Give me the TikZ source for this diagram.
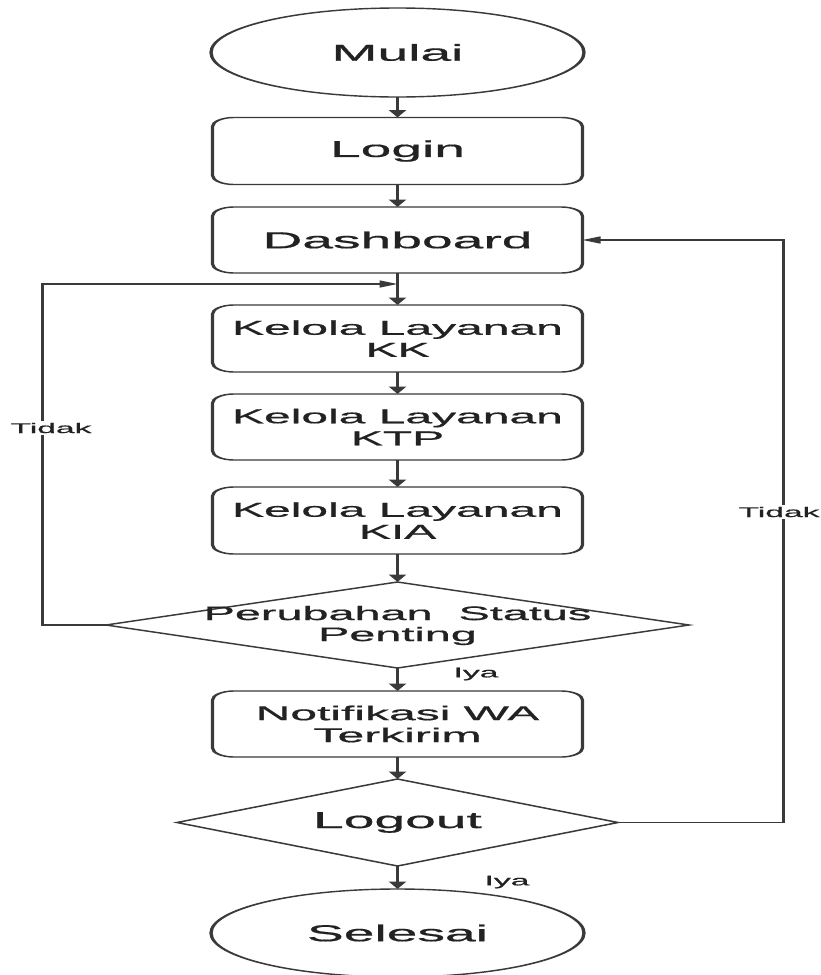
\documentclass[tikz,border=0pt]{standalone}
\usepackage{fontspec}
\setmainfont{Liberation Sans}[FakeBold=0.6]
\usetikzlibrary{shapes.geometric,arrows.meta}
\definecolor{ln}{HTML}{3A3A3A}
\definecolor{tx}{HTML}{222222}
\begin{document}
\begin{tikzpicture}[x=1pt,y=-1pt]
\useasboundingbox[fill=white] (0,0) rectangle (821,975);
\begin{scope}[transform canvas={xscale=2.4}, x=0.416667pt, y=-1pt,
  every node/.style={text=tx, inner sep=0pt, outer sep=0pt},
  procbox/.style={draw=ln, line width=1.4pt, rounded corners=9pt, rectangle,
    minimum width=154.17pt, minimum height=67pt, align=center,
    font=\fontsize{20}{22}\selectfont},
  onebox/.style={procbox, font=\fontsize{23}{26}\selectfont},
  term/.style={draw=ln, line width=1.4pt, ellipse, minimum width=155.42pt,
    minimum height=89pt, font=\fontsize{23}{26}\selectfont},
  dec/.style={draw=ln, line width=1.4pt, diamond},
  arr/.style={draw=ln, line width=1.4pt, -{Triangle[length=7.5pt,width=7pt]}},
  lbl/.style={font=\fontsize{14}{16}\selectfont, fill=white, inner sep=1.5pt},
  lblb/.style={font=\fontsize{14}{16}\selectfont}]

\node[term] (mulai) at (397.5,52.5) {Mulai};
\node[onebox] (login) at (397.5,151) {Login};
\node[onebox, minimum height=66pt] (dash) at (397.5,240) {Dashboard};
\node[procbox] (kk) at (397.5,338.5) {Kelola Layanan\\KK};
\node[procbox, minimum height=66pt] (ktp) at (397.5,427) {Kelola Layanan\\KTP};
\node[procbox] (kia) at (397.5,520.5) {Kelola Layanan\\KIA};
\node[dec, minimum width=242.92pt, minimum height=86pt] (ubah) at (397.5,625) {};
\node[align=center, font=\fontsize{19.5}{21}\selectfont] (ubahtxt) at (397.5,625.5) {Perubahan~ Status\\Penting};
\node[procbox, minimum height=66pt] (notif) at (397.5,724) {Notifikasi WA\\Terkirim};
\node[dec, minimum width=183.75pt, minimum height=87pt] (logout) at (397.5,822.5) {};
\node[font=\fontsize{23}{26}\selectfont] (logouttxt) at (397.5,822.5) {Logout};
\node[term, minimum height=88pt] (selesai) at (397.5,933) {Selesai};

\coordinate (j) at (397.5,284);

\draw[arr] (mulai) -- (login);
\draw[arr] (login) -- (dash);
\draw[arr] (dash) -- (kk);
\draw[arr] (kk) -- (ktp);
\draw[arr] (ktp) -- (kia);
\draw[arr] (kia) -- (ubah.north);
\draw[arr] (ubah.south) -- (notif);
\draw[arr] (notif) -- (logout.north);
\draw[arr] (logout.south) -- (selesai);

\draw[arr] (ubah.west) -- ++(-63.5,0) |- (j);
\draw[arr] (logout.east) -- ++(165.5,0) |- (dash.east);

\node[lbl] (t1) at (51,428) {Tidak};
\node[lbl] (t2) at (779,512) {Tidak};
\node[lblb] (i1) at (476,674) {Iya};
\node[lblb] (i2) at (507,882) {Iya};
\end{scope}
\end{tikzpicture}
\end{document}
